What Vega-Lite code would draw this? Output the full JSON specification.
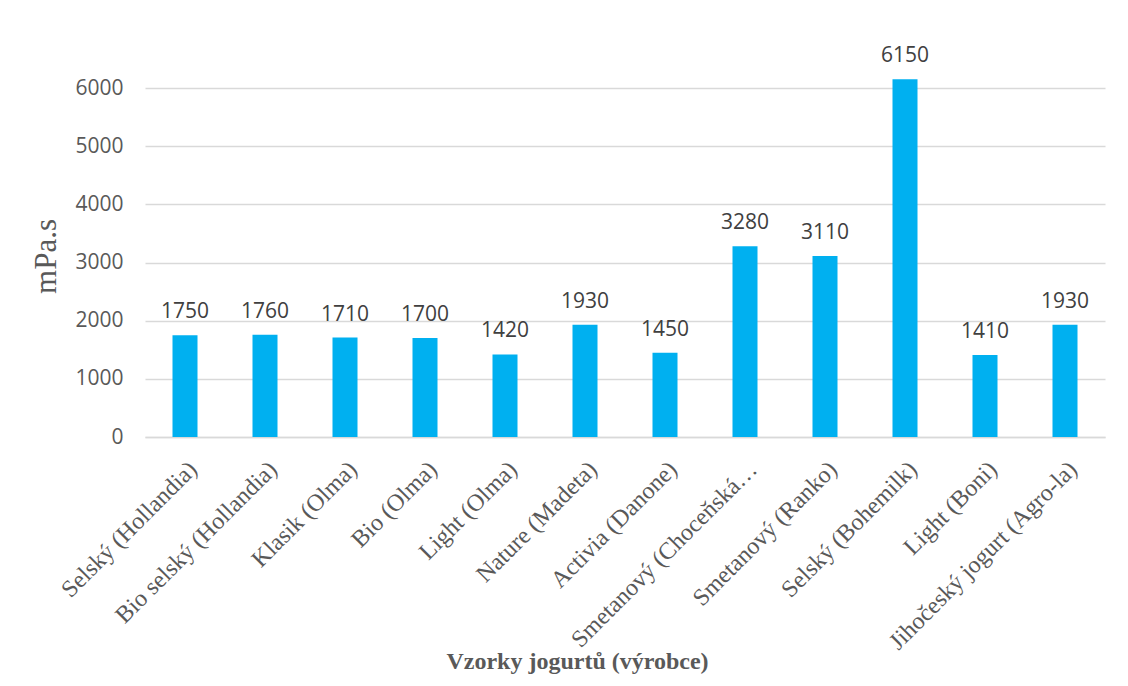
{
  "$schema": "https://vega.github.io/schema/vega-lite/v6.json",
  "autosize": "none",
  "width": 960,
  "height": 349,
  "padding": {"left": 145, "top": 88, "right": 23, "bottom": 249},
  "background": "white",
  "config": {"view": {"stroke": null}},
  "data": {
    "values": [
      {"sample": "Selský (Hollandia)", "viscosity": 1750},
      {"sample": "Bio selský (Hollandia)", "viscosity": 1760},
      {"sample": "Klasik (Olma)", "viscosity": 1710},
      {"sample": "Bio (Olma)", "viscosity": 1700},
      {"sample": "Light (Olma)", "viscosity": 1420},
      {"sample": "Nature (Madeta)", "viscosity": 1930},
      {"sample": "Activia (Danone)", "viscosity": 1450},
      {"sample": "Smetanový (Choceňská…", "viscosity": 3280},
      {"sample": "Smetanový (Ranko)", "viscosity": 3110},
      {"sample": "Selský (Bohemilk)", "viscosity": 6150},
      {"sample": "Light (Boni)", "viscosity": 1410},
      {"sample": "Jihočeský jogurt (Agro-la)", "viscosity": 1930}
    ]
  },
  "encoding": {
    "x": {
      "field": "sample",
      "type": "nominal",
      "sort": null,
      "scale": {"paddingInner": 0.6875, "paddingOuter": 0.34375},
      "axis": {
        "title": "Vzorky jogurtů (výrobce)",
        "titleFont": "Liberation Serif",
        "titleFontSize": 24,
        "titleFontWeight": "bold",
        "titleColor": "#595959",
        "titleX": 432,
        "titleY": 231,
        "titleBaseline": "alphabetic",
        "titleAnchor": "middle",
        "labelAngle": -45,
        "labelFont": "Liberation Serif",
        "labelFontSize": 24,
        "labelColor": "#595959",
        "labelPadding": 20,
        "labelLimit": 400,
        "ticks": false,
        "domain": true,
        "domainColor": "#D9D9D9",
        "domainWidth": 1.5,
        "grid": false
      }
    },
    "y": {
      "field": "viscosity",
      "type": "quantitative",
      "scale": {"domain": [0, 6000], "nice": false},
      "axis": {
        "title": "mPa.s",
        "titleFont": "Liberation Serif",
        "titleFontSize": 31,
        "titleFontWeight": "normal",
        "titleColor": "#595959",
        "titlePadding": 12,
        "titleY": 168,
        "titleAnchor": "middle",
        "values": [0, 1000, 2000, 3000, 4000, 5000, 6000],
        "format": "d",
        "labelFont": "Open Sans",
        "labelFontSize": 21,
        "labelColor": "#595959",
        "labelPadding": 22,
        "ticks": false,
        "domain": false,
        "grid": true,
        "gridColor": "#D9D9D9",
        "gridWidth": 1.5
      }
    }
  },
  "layer": [
    {"mark": {"type": "bar", "color": "#00B0F0"}},
    {
      "mark": {"type": "text", "font": "Open Sans", "fontSize": 21, "color": "#404040", "baseline": "alphabetic", "dy": -17},
      "encoding": {"text": {"field": "viscosity", "type": "quantitative"}}
    }
  ]
}
